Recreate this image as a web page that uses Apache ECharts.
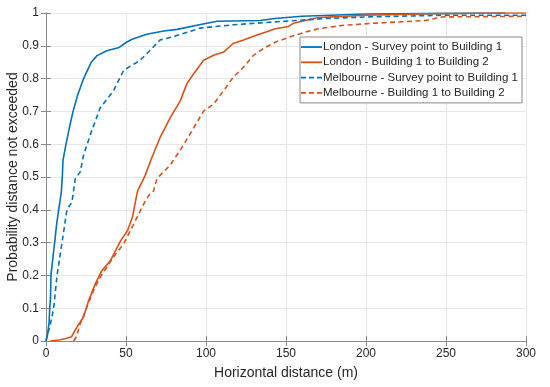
<!DOCTYPE html>
<html>
<head>
<meta charset="utf-8">
<script src="https://cdn.jsdelivr.net/npm/echarts@6/dist/echarts.min.js"></script>
<style>
html,body{margin:0;padding:0;background:#fff;}
#chart{width:550px;height:387px;}
</style>
</head>
<body>
<div id="chart"></div>
<script>
// Series names
var seriesNames = [
  'London - Survey point to Building 1',
  'London - Building 1 to Building 2',
  'Melbourne - Survey point to Building 1',
  'Melbourne - Building 1 to Building 2'
];

// London - Survey point to Building 1 (solid blue)
var londonSurveyX = [0, 0.5, 1, 1.5, 2, 2.3, 2.8, 3.1, 4, 5.4, 6.5, 7.9, 9.5, 10.2, 10.6, 12.5, 14.6, 16.9, 19.8, 23.5, 28.3, 31.9, 38, 45.8, 50, 53.8, 63, 73.6, 82, 96.6, 107, 134, 143, 160, 200, 250, 287];
var londonSurveyY = [0, 0.01, 0.02, 0.04, 0.06, 0.1, 0.13, 0.2, 0.24, 0.3, 0.35, 0.4, 0.45, 0.5, 0.55, 0.6, 0.65, 0.7, 0.75, 0.8, 0.85, 0.87, 0.885, 0.895, 0.91, 0.92, 0.935, 0.945, 0.95, 0.965, 0.975, 0.977, 0.983, 0.99, 0.997, 0.999, 1];

// London - Building 1 to Building 2 (solid orange)
var londonBuildingX = [2.7, 8, 12, 16, 19.4, 23.5, 26.7, 30.9, 35, 40.3, 43.5, 46.7, 50.9, 54, 56, 57.2, 62, 66, 71.2, 77.6, 83.9, 88, 92.2, 98.5, 104.7, 111, 117, 123.5, 131.8, 138, 143.3, 151.6, 154.7, 170, 199.6, 243, 285, 300];
var londonBuildingY = [0, 0.003, 0.007, 0.013, 0.043, 0.074, 0.124, 0.175, 0.215, 0.245, 0.276, 0.306, 0.336, 0.377, 0.427, 0.457, 0.505, 0.557, 0.619, 0.68, 0.732, 0.784, 0.814, 0.856, 0.871, 0.881, 0.907, 0.918, 0.933, 0.943, 0.952, 0.959, 0.969, 0.986, 0.993, 0.998, 1, 1];

// Melbourne - Survey point to Building 1 (dashed blue)
var melbSurveyX = [0, 1, 2.7, 4.8, 6.9, 10, 13.1, 16.2, 18.3, 21.4, 23.5, 27.7, 33.9, 42.2, 48.5, 58.9, 67.2, 71.4, 79.7, 96.4, 117, 143.3, 174.6, 200, 247, 300];
var melbSurveyY = [0, 0.02, 0.05, 0.1, 0.2, 0.3, 0.4, 0.423, 0.495, 0.515, 0.567, 0.629, 0.711, 0.763, 0.825, 0.856, 0.897, 0.918, 0.928, 0.954, 0.964, 0.973, 0.983, 0.988, 0.993, 0.993];

// Melbourne - Building 1 to Building 2 (dashed orange)
var melbBuildingX = [17.3, 19, 21.5, 25.6, 29.8, 33.9, 38, 42.2, 48.5, 52.7, 56.9, 61, 64.1, 67.2, 69.3, 77.6, 86, 92.2, 98.5, 104.7, 111, 117, 123.5, 129.7, 136, 143.3, 151.6, 162, 170.4, 185, 205.7, 237, 247.4, 300];
var melbBuildingY = [0, 0.013, 0.054, 0.104, 0.155, 0.195, 0.225, 0.256, 0.296, 0.336, 0.377, 0.417, 0.443, 0.457, 0.495, 0.536, 0.598, 0.649, 0.701, 0.722, 0.763, 0.804, 0.835, 0.871, 0.892, 0.911, 0.926, 0.942, 0.952, 0.962, 0.969, 0.977, 0.988, 0.99];

// Axis ticks
var xTicks = [0, 50, 100, 150, 200, 250, 300];
var yTicks = [0, 0.1, 0.2, 0.3, 0.4, 0.5, 0.6, 0.7, 0.8, 0.9, 1];

function zip(xs, ys) {
  var out = [];
  for (var i = 0; i < xs.length; i++) out.push([xs[i], ys[i]]);
  return out;
}

var BLUE = '#0072BD', ORANGE = '#D95319';
var AXIS = '#8a8a8a', TEXT = '#262626', GRID = '#e6e6e6';
var FONT = 'Liberation Sans, Arial, Helvetica, sans-serif';
var SOLID_ICON = 'path://M0,0h21v1h-21z';
var DASH_ICON = 'path://M0,0h5v1h-5z M8,0h5v1h-5z M16,0h5v1h-5z';

function mkSeries(name, xs, ys, color, dashed) {
  return {
    name: name, type: 'line', data: zip(xs, ys),
    showSymbol: false, symbol: 'none', smooth: false,
    lineStyle: { color: color, width: 1.6, type: dashed ? [5, 3.5] : 'solid' },
    itemStyle: { color: color },
    animation: false
  };
}

var chart = echarts.init(document.getElementById('chart'), null, { renderer: 'canvas' });
var xMin = xTicks[0], xMax = xTicks[xTicks.length - 1], xInt = xTicks[1] - xTicks[0];
var yMin = yTicks[0], yMax = yTicks[yTicks.length - 1], yInt = 0.1;

var baseTick = { show: true, inside: true, length: 5, lineStyle: { color: AXIS, width: 1 } };
chart.setOption({
  animation: false,
  backgroundColor: '#fff',
  textStyle: { fontFamily: FONT },
  grid: { left: 46, right: 24, top: 13, bottom: 46, containLabel: false, outerBoundsMode: 'none' },
  legend: {
    orient: 'vertical', right: 28, top: 37,
    data: [
      { name: seriesNames[0], icon: SOLID_ICON, itemStyle: { color: BLUE, borderWidth: 0 } },
      { name: seriesNames[1], icon: SOLID_ICON, itemStyle: { color: ORANGE, borderWidth: 0 } },
      { name: seriesNames[2], icon: DASH_ICON, itemStyle: { color: BLUE, borderWidth: 0 } },
      { name: seriesNames[3], icon: DASH_ICON, itemStyle: { color: ORANGE, borderWidth: 0 } }
    ],
    symbolKeepAspect: false,
    backgroundColor: '#fff', borderColor: AXIS, borderWidth: 1,
    padding: [3, 4, 3, 1], itemGap: 1.3, itemWidth: 21, itemHeight: 1.8,
    textStyle: { fontSize: 11.5, color: TEXT, fontFamily: FONT, lineHeight: 14, padding: [0, 0, 0, -4] }
  },
  xAxis: [{
    type: 'value', min: xMin, max: xMax, interval: xInt,
    name: 'Horizontal distance (m)', nameLocation: 'middle', nameGap: 25, nameMoveOverlap: false,
    nameTextStyle: { fontSize: 14, color: TEXT, fontFamily: FONT },
    axisLine: { show: true, lineStyle: { color: AXIS, width: 1 } },
    axisTick: baseTick,
    axisLabel: { fontSize: 12, color: TEXT, margin: 7, fontFamily: FONT },
    splitLine: { show: true, lineStyle: { color: GRID, width: 1 } }
  }, {
    type: 'value', min: xMin, max: xMax, interval: xInt, position: 'top',
    axisLine: { show: true, lineStyle: { color: AXIS, width: 1 } },
    axisTick: baseTick, axisLabel: { show: false }, splitLine: { show: false }
  }],
  yAxis: [{
    type: 'value', min: yMin, max: yMax, interval: yInt,
    name: 'Probability distance not exceeded', nameLocation: 'middle', nameGap: 26, nameMoveOverlap: false,
    nameTextStyle: { fontSize: 14, color: TEXT, fontFamily: FONT },
    axisLine: { show: true, lineStyle: { color: AXIS, width: 1 } },
    axisTick: baseTick,
    axisLabel: { fontSize: 12, color: TEXT, margin: 7, fontFamily: FONT,
      formatter: function (v) { return String(Math.round(v * 10) / 10); } },
    splitLine: { show: true, lineStyle: { color: GRID, width: 1 } }
  }, {
    type: 'value', min: yMin, max: yMax, interval: yInt, position: 'right',
    axisLine: { show: true, lineStyle: { color: AXIS, width: 1 } },
    axisTick: baseTick, axisLabel: { show: false }, splitLine: { show: false }
  }],
  series: [
    mkSeries(seriesNames[0], londonSurveyX, londonSurveyY, BLUE, false),
    mkSeries(seriesNames[1], londonBuildingX, londonBuildingY, ORANGE, false),
    mkSeries(seriesNames[2], melbSurveyX, melbSurveyY, BLUE, true),
    mkSeries(seriesNames[3], melbBuildingX, melbBuildingY, ORANGE, true)
  ]
});
</script>
</body>
</html>
